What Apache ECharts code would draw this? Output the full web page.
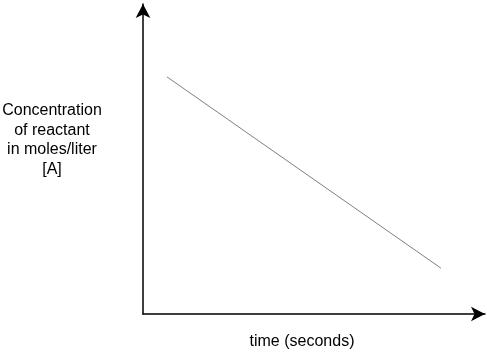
<!DOCTYPE html>
<html>
<head>
<meta charset="utf-8">
<script src="https://cdn.jsdelivr.net/npm/echarts@6/dist/echarts.min.js"></script>
<style>html,body{margin:0;padding:0;background:#fff;}#c{width:487px;height:352px;}</style>
</head>
<body>
<div id="c"></div>
<script>
var timeValues = [7.0, 87.1];
var concentrationValues = [76.5, 14.8];
var xAxisTitle = 'time (seconds)';
var yAxisTitle = 'Concentration\nof reactant\nin moles/liter\n[A]';

var chart = echarts.init(document.getElementById('c'), null, {renderer: 'canvas'});
var pts = timeValues.map(function (t, i) { return [t, concentrationValues[i]]; });
var font = 'Liberation Sans, Arial, Helvetica, sans-serif';
chart.setOption({
  animation: false,
  backgroundColor: '#fff',
  grid: {left: 143, right: 2, top: 4, bottom: 38},
  xAxis: {
    type: 'value', min: 0, max: 100,
    axisLine: {show: true, onZero: false, symbol: ['none', 'arrow'], symbolSize: [11, 14], lineStyle: {color: '#000', width: 1.5}},
    axisTick: {show: false}, axisLabel: {show: false}, splitLine: {show: false}
  },
  yAxis: {
    type: 'value', min: 0, max: 100,
    axisLine: {show: true, onZero: false, symbol: ['none', 'arrow'], symbolSize: [11, 14], lineStyle: {color: '#000', width: 1.5}},
    axisTick: {show: false}, axisLabel: {show: false}, splitLine: {show: false}
  },
  graphic: [
    {type: 'text', x: 302, y: 334, style: {text: xAxisTitle, fill: '#000', font: '16px ' + font, textAlign: 'center', textVerticalAlign: 'top'}},
    {type: 'text', x: 52, y: 101, style: {text: yAxisTitle, fill: '#000', font: '16px ' + font, textAlign: 'center', textVerticalAlign: 'top', lineHeight: 19.5}}
  ],
  series: [{
    type: 'line', data: pts, symbol: 'none',
    lineStyle: {color: '#808080', width: 1}
  }]
});
</script>
</body>
</html>
